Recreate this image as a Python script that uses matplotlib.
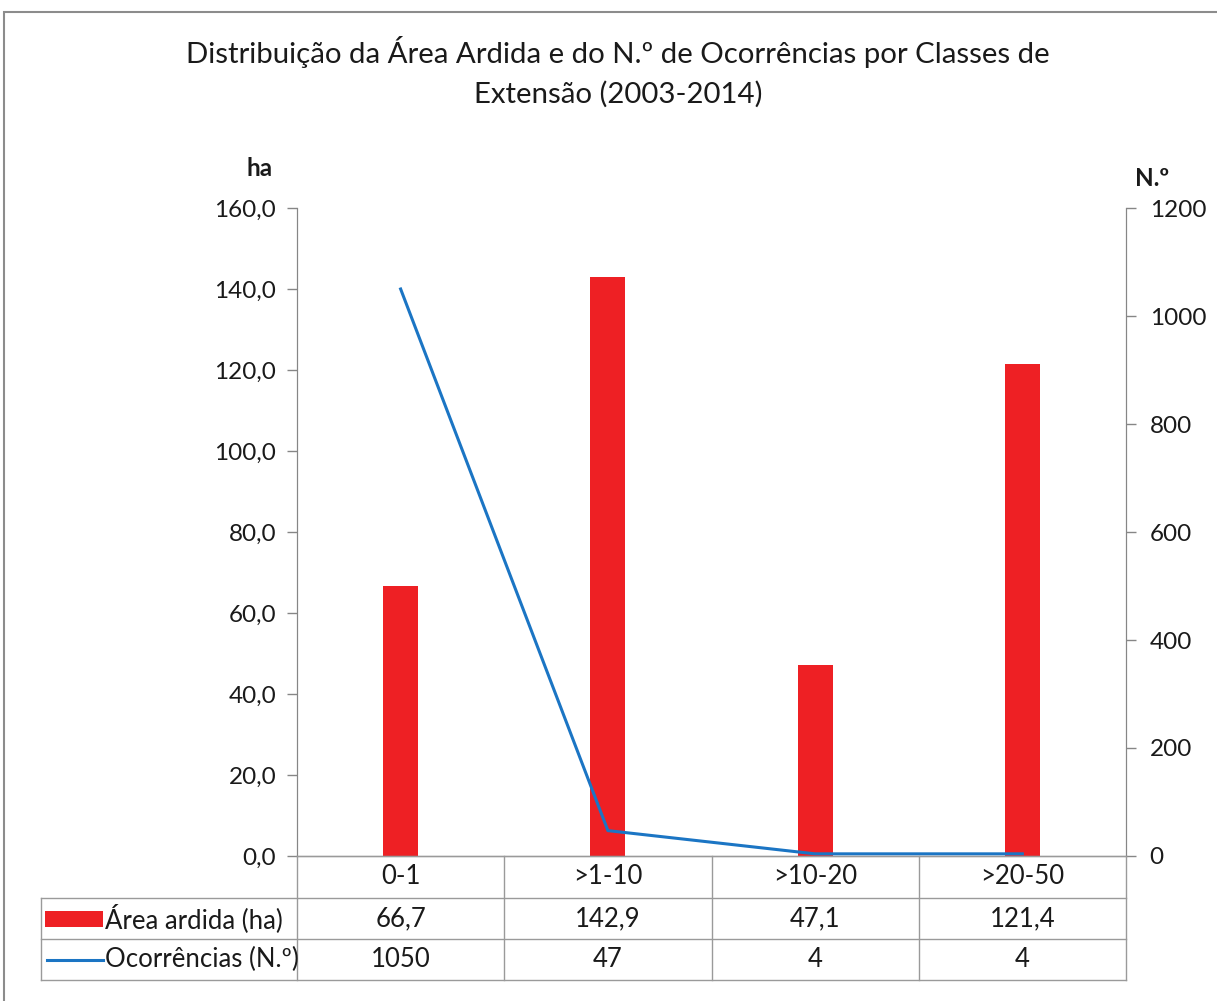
import matplotlib
matplotlib.use("Agg")
import matplotlib.pyplot as plt
from matplotlib.patches import Rectangle
from matplotlib.lines import Line2D
from matplotlib import font_manager

categories = ["0-1", ">1-10", ">10-20", ">20-50"]
area_ha = [66.7, 142.9, 47.1, 121.4]
ocorrencias = [1050, 47, 4, 4]
area_labels = ["66,7", "142,9", "47,1", "121,4"]
ocorr_labels = ["1050", "47", "4", "4"]
left_ticks = [0, 20, 40, 60, 80, 100, 120, 140, 160]
right_ticks = [0, 200, 400, 600, 800, 1000, 1200]

names = {f.name for f in font_manager.fontManager.ttflist}
fam = "Lato" if "Lato" in names else "DejaVu Sans"
plt.rcParams['font.family'] = [fam, 'DejaVu Sans']

W, H = 1217, 1001
fig = plt.figure(figsize=(W / 100, H / 100), dpi=100)
gray = "#868686"
red = "#EE2024"
blue = "#1B75C4"
txt = "#1a1a1a"
fs = 17.5
tfs = 18.5

# outer border
fig.add_artist(Rectangle((4 / W, -0.01), 1.02, (H - 12) / H + 0.01, transform=fig.transFigure,
                         fill=False, edgecolor="#8c8c8c", lw=1.5))

x0, x1, yb, yt = 297, 1126, 856, 208
ax = fig.add_axes([x0 / W, (H - yb) / H, (x1 - x0) / W, (yb - yt) / H])
ax2 = ax.twinx()

xs = list(range(len(categories)))
ax.bar(xs, area_ha, width=0.17, color=red, zorder=2)
ax.set_xlim(-0.5, 3.5)
ax.set_ylim(0, 160)
ax.set_yticks(left_ticks)
ax.set_yticklabels([f"{v:.1f}".replace(".", ",") for v in left_ticks])
ax.set_xticks([])
ax2.plot(xs, ocorrencias, color=blue, lw=2.2, zorder=3)
ax2.set_ylim(0, 1200)
ax2.set_yticks(right_ticks)
ax2.set_yticklabels([str(v) for v in right_ticks])

for a in (ax, ax2):
    for s in a.spines.values():
        s.set_color(gray)
    a.spines['top'].set_visible(False)
    a.tick_params(axis='y', colors=gray, labelcolor=txt, labelsize=fs, length=7, width=1)
ax.tick_params(axis='y', pad=8)
ax2.tick_params(axis='y', pad=10)

fig.text(260 / W, 1 - 168 / H, "ha", fontsize=fs, fontweight="bold", ha="center", va="center", color=txt)
fig.text(1152 / W, 1 - 178 / H, "N.º", fontsize=fs, fontweight="bold", ha="center", va="center", color=txt)

fig.text(618 / W, 1 - 52 / H, "Distribuição da Área Ardida e do N.º de Ocorrências por Classes de",
         fontsize=21.2, ha="center", va="center", color=txt)
fig.text(618 / W, 1 - 94 / H, "Extensão (2003-2014)", fontsize=21.2, ha="center", va="center", color=txt)

# data table (figure pixel coords)
def fx(px):
    return px / W

def fy(py):
    return 1 - py / H

tcol = "#9a9a9a"
rows = [856, 898, 939, 980]
bounds = [x0 + (x1 - x0) * i / 4 for i in range(5)]
tleft = 41
fig.add_artist(Line2D([fx(x0), fx(x1)], [fy(rows[0]), fy(rows[0])], color=tcol, lw=1))
for r in rows[1:]:
    fig.add_artist(Line2D([fx(tleft), fx(x1)], [fy(r), fy(r)], color=tcol, lw=1))
for b in bounds:
    fig.add_artist(Line2D([fx(b), fx(b)], [fy(rows[0]), fy(rows[3])], color=tcol, lw=1))
fig.add_artist(Line2D([fx(tleft), fx(tleft)], [fy(rows[1]), fy(rows[3])], color=tcol, lw=1))

for i, c in enumerate(categories):
    cx = (bounds[i] + bounds[i + 1]) / 2
    fig.text(fx(cx), fy((rows[0] + rows[1]) / 2), c, fontsize=tfs, ha="center", va="center", color=txt)
    fig.text(fx(cx), fy((rows[1] + rows[2]) / 2), area_labels[i], fontsize=tfs, ha="center", va="center", color=txt)
    fig.text(fx(cx), fy((rows[2] + rows[3]) / 2), ocorr_labels[i], fontsize=tfs, ha="center", va="center", color=txt)

ym1 = (rows[1] + rows[2]) / 2
fig.add_artist(Rectangle((fx(45), fy(ym1 + 8)), fx(103) - fx(45), 16 / H,
                         transform=fig.transFigure, facecolor=red, edgecolor="none"))
fig.text(fx(105), fy(ym1), "Área ardida (ha)", fontsize=tfs, ha="left", va="center", color=txt)
ym2 = (rows[2] + rows[3]) / 2
fig.add_artist(Line2D([fx(47), fx(103)], [fy(ym2), fy(ym2)], color=blue, lw=2.2))
fig.text(fx(105), fy(ym2), "Ocorrências (N.º)", fontsize=tfs, ha="left", va="center", color=txt)

fig.savefig("out.png", dpi=100)
